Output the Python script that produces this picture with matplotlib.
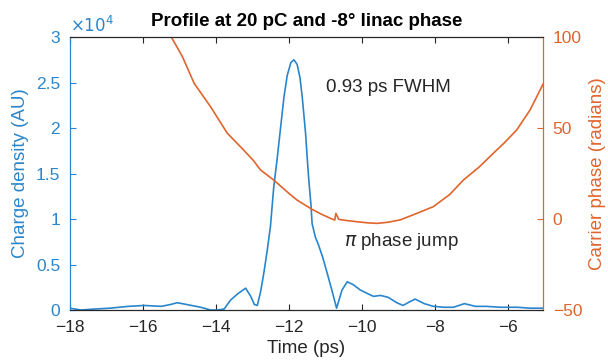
import matplotlib.pyplot as plt
import numpy as np

plt.rcParams['font.family'] = ['Liberation Sans', 'DejaVu Sans']

# charge density profile (x1e4 AU) vs time (ps)
t_charge = [-18.0, -17.7, -17.34, -16.9, -16.4, -15.97, -15.5, -15.25, -15.06, -14.8,
            -14.42, -14.15, -13.96, -13.78, -13.6, -13.4, -13.19, -13.05, -12.95, -12.87,
            -12.78, -12.69, -12.6, -12.51, -12.42, -12.33, -12.22, -12.14, -12.05, -11.95,
            -11.87, -11.78, -11.7, -11.64, -11.55, -11.5, -11.46, -11.4, -11.37, -11.28,
            -11.19, -11.08, -10.96, -10.83, -10.7, -10.55, -10.41, -10.25, -10.05, -9.85,
            -9.69, -9.5, -9.29, -9.05, -8.88, -8.7, -8.55, -8.3, -8.05, -7.75,
            -7.5, -7.2, -6.9, -6.6, -6.2, -5.75, -5.4, -5.05]
charge = [0.02, 0.0, 0.01, 0.02, 0.04, 0.05, 0.04, 0.06, 0.08, 0.06,
          0.03, 0.0, 0.0, 0.01, 0.11, 0.18, 0.24, 0.15, 0.06, 0.05,
          0.2, 0.41, 0.65, 0.92, 1.35, 1.65, 2.05, 2.34, 2.58, 2.72,
          2.75, 2.7, 2.55, 2.34, 1.95, 1.65, 1.43, 1.15, 0.95, 0.8,
          0.71, 0.58, 0.41, 0.22, 0.02, 0.22, 0.31, 0.28, 0.22, 0.18,
          0.15, 0.16, 0.14, 0.08, 0.05, 0.09, 0.12, 0.07, 0.04, 0.03,
          0.03, 0.07, 0.04, 0.04, 0.03, 0.03, 0.02, 0.02]

# carrier phase (radians) vs time (ps)
t_phase = [-15.4, -15.23, -14.92, -14.6, -14.15, -13.69, -13.33, -12.97, -12.78, -12.42,
           -12.0, -11.78, -11.37, -11.1, -10.87, -10.75, -10.72, -10.64, -10.4, -10.14,
           -9.85, -9.6, -9.3, -8.96, -8.5, -8.05, -7.6, -7.23, -6.8, -6.41,
           -6.1, -5.77, -5.4, -5.05]
phase = [108, 100.2, 89.2, 74.6, 61.7, 47.1, 39.7, 32.0, 26.9, 21.4,
         14.0, 10.4, 5.3, 2.5, 0.4, -0.6, 3.1, -0.2, -0.9, -1.5,
         -2.1, -2.4, -1.8, -0.5, 3.1, 6.8, 13.5, 21.4, 28.5, 36.1,
         42.0, 48.9, 60.0, 74.0]

blue = '#2a86cc'
orange = '#e0652c'
dark = '#262626'

fig = plt.figure(figsize=(6.08, 3.63), dpi=100)
ax = fig.add_axes([0.115, 0.146, 0.778, 0.752])
ax2 = ax.twinx()

ax.plot(t_charge, np.array(charge) * 1e4, color=blue, lw=1.2)
ax2.plot(t_phase, phase, color=orange, lw=1.2)

ax.set_xlim(-18, -5.05)
ax.set_ylim(0, 3e4)
ax2.set_ylim(-50, 100)
ax.set_xticks([-18, -16, -14, -12, -10, -8, -6])
ax.set_yticks(np.arange(0, 3.01e4, 0.5e4))
ax.set_yticklabels(['0', '0.5', '1', '1.5', '2', '2.5', '3'])
ax2.set_yticks([-50, 0, 50, 100])

ax.tick_params(axis='x', direction='in', top=True, labelsize=12.5, length=4, colors=dark, pad=7)
ax.tick_params(axis='y', direction='in', labelsize=12.5, length=4, colors=blue, pad=7)
ax2.tick_params(axis='y', direction='in', labelsize=12.5, length=4, colors=orange, pad=7)

for sp in ['top', 'bottom']:
    ax2.spines[sp].set_color(dark)
ax2.spines['left'].set_color(blue)
ax2.spines['right'].set_color(orange)
ax.spines['left'].set_color(blue)
ax.spines['right'].set_color(orange)

ax.set_xlabel('Time (ps)', fontsize=13.5, color=dark, labelpad=4)
ax.set_ylabel('Charge density (AU)', fontsize=13.5, color=blue, labelpad=5)
ax2.set_ylabel('Carrier phase (radians)', fontsize=13.5, color=orange, labelpad=5)
ax.set_title('Profile at 20 pC and -8° linac phase', fontsize=13.5, fontweight='bold', pad=8)

ax.text(0.0, 1.008, r'$\times10^{4}$', transform=ax.transAxes, color=blue,
        fontsize=12, ha='left', va='bottom')
ax.text(-11.0, 2.44e4, '0.93 ps FWHM', fontsize=13.5, color=dark, va='center')
ax.text(-10.5, 0.75e4, r'$\pi$ phase jump', fontsize=13.5, color=dark, va='center')

fig.savefig('out.png', dpi=100)
